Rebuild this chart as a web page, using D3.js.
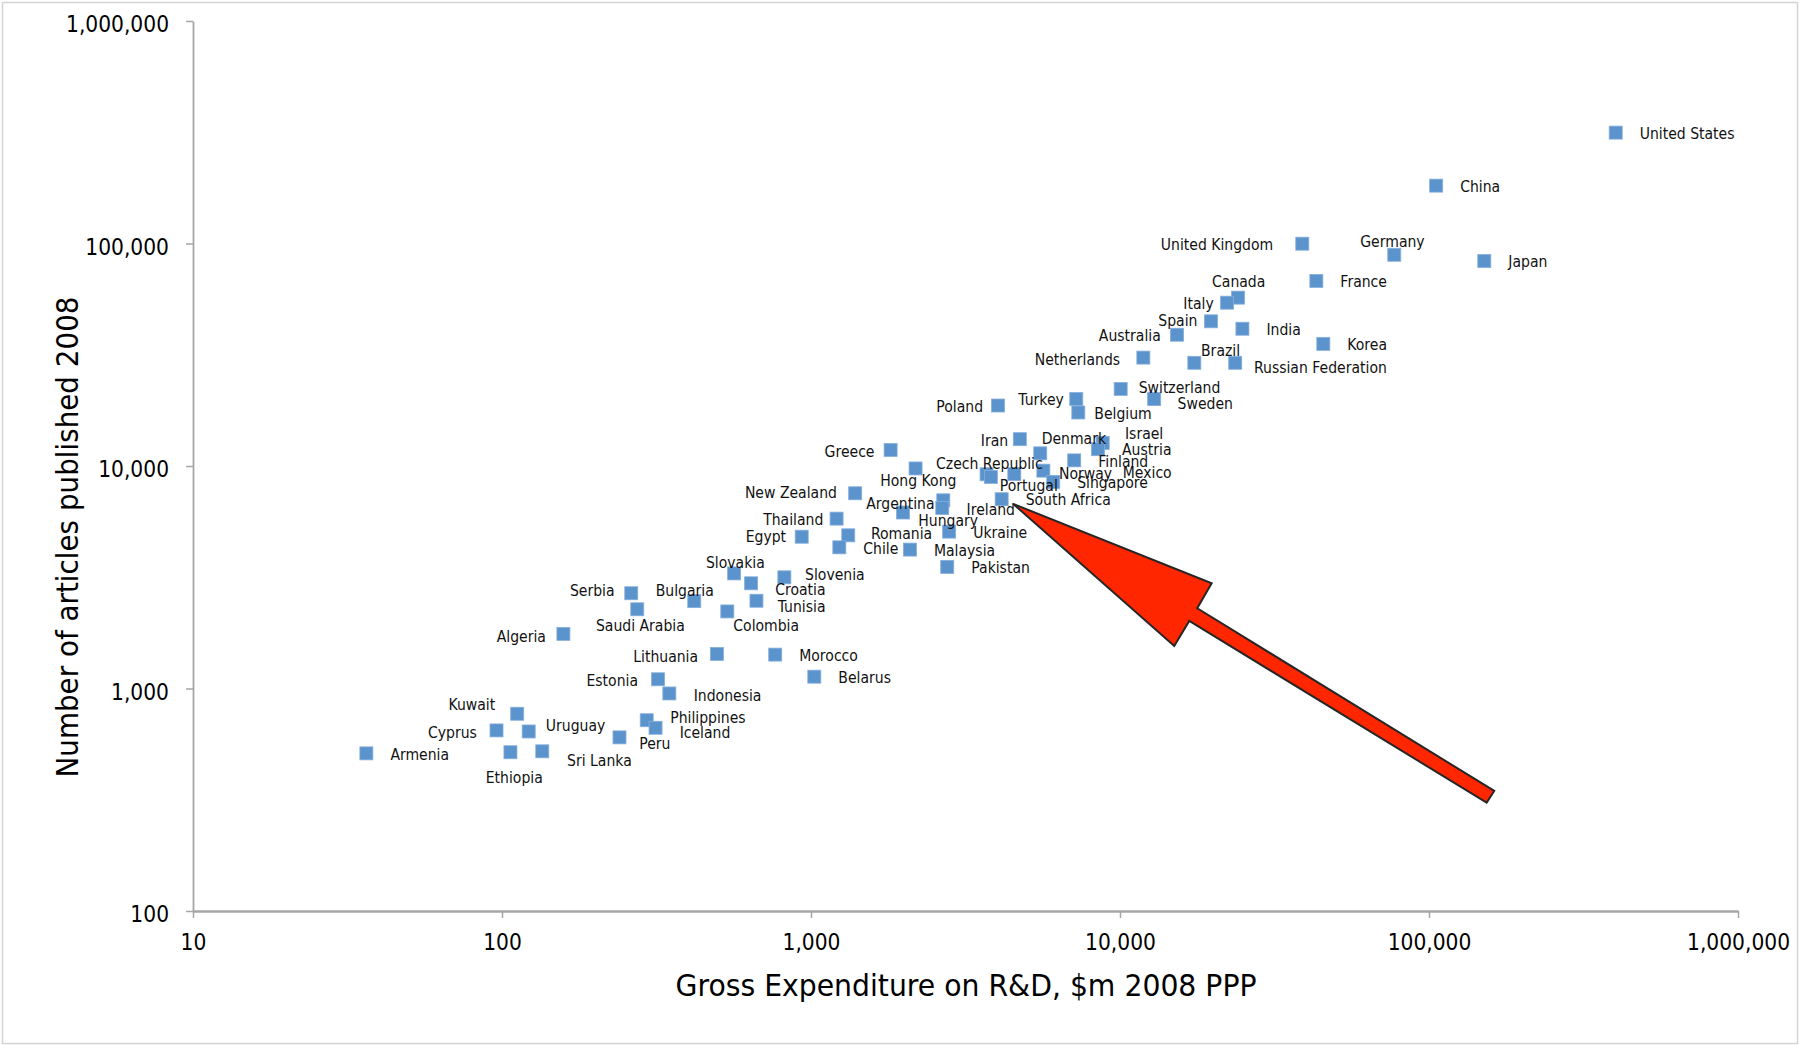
<!DOCTYPE html>
<html>
<head>
	<meta charset="utf-8">
	<title>GERD vs articles 2008</title>
	<script src="https://d3js.org/d3.v7.min.js"></script>
	<style>
		body { margin: 0; background: #fff; }
		svg { display: block; font-family: 'DejaVu Sans', Verdana, sans-serif; }
	</style>
</head>
<body>
	<div class="chart"></div>

	<script type="text/javascript">

		// countries, R&D spend ($m 2008 PPP) and articles published 2008
		var countries = ['United States', 'China', 'Japan', 'Germany', 'United Kingdom', 'France', 'Canada', 'Italy',
			'Spain', 'India', 'Australia', 'Korea', 'Netherlands', 'Brazil', 'Russian Federation', 'Switzerland',
			'Sweden', 'Turkey', 'Belgium', 'Poland', 'Iran', 'Denmark', 'Israel', 'Austria', 'Finland', 'Greece',
			'Hong Kong', 'Czech Republic', 'Portugal', 'Norway', 'Mexico', 'Singapore', 'South Africa', 'Ireland',
			'Argentina', 'Hungary', 'New Zealand', 'Thailand', 'Egypt', 'Romania', 'Chile', 'Malaysia', 'Ukraine',
			'Pakistan', 'Slovakia', 'Croatia', 'Slovenia', 'Tunisia', 'Colombia', 'Bulgaria', 'Serbia',
			'Saudi Arabia', 'Algeria', 'Lithuania', 'Morocco', 'Belarus', 'Estonia', 'Indonesia', 'Philippines',
			'Iceland', 'Peru', 'Kuwait', 'Cyprus', 'Uruguay', 'Armenia', 'Ethiopia', 'Sri Lanka']

		var gerd = [402000, 105500, 151000, 77200, 38900, 43200, 24100, 22200,
			19700, 24900, 15300, 45500, 11900, 17400, 23600, 10050,
			12900, 7220, 7330, 4030, 4740, 5520, 8790, 8490, 7110, 1810,
			2180, 3700, 3820, 4550, 5650, 6080, 4140, 2680,
			2660, 1985, 1390, 1210, 933, 1320, 1235, 2090, 2800,
			2760, 564, 640, 820, 666, 536, 419, 262,
			274, 158, 496, 766, 1025, 320, 348, 294,
			314, 240, 112, 96, 122, 36.4, 106.5, 135]

		var articles = [315000, 182000, 83400, 89000, 99800, 67900, 57100, 54200,
			44700, 41400, 38900, 35400, 30700, 29100, 29100, 22200,
			20000, 20000, 17400, 18700, 13200, 11400, 12700, 11900, 10600, 11800,
			9750, 9180, 8930, 9200, 9530, 8480, 7090, 7010,
			6480, 6180, 7540, 5800, 4810, 4880, 4310, 4210, 5070,
			3520, 3290, 2970, 3160, 2480, 2220, 2470, 2680,
			2270, 1760, 1430, 1420, 1130, 1100, 950, 720,
			666, 603, 770, 648, 641, 511, 517, 522]

		var xTicks = [10, 100, 1000, 10000, 100000, 1000000]
		var yTicks = [100, 1000, 10000, 100000, 1000000]

		var xTitle = 'Gross Expenditure on R&D, $m 2008 PPP'
		var yTitle = 'Number of articles published 2008'

		// label placement (pixels from marker centre), the rest sit to the right
		var labelShift = {
			'Germany': [-34, -14], 'United Kingdom': [-141.5, 0.6], 'Canada': [-26, -16.4], 'Italy': [-43.7, 0.6],
			'Spain': [-52.7, -1.3], 'Australia': [-78.2, 0.3], 'Netherlands': [-108.6, 1.6], 'Brazil': [6.7, -12.7],
			'Russian Federation': [18.7, 4.6], 'Switzerland': [18, -1.7], 'Sweden': [23.4, 4.3], 'Turkey': [-58, 0.3],
			'Belgium': [16, 0.6], 'Poland': [-61.7, 0.3], 'Iran': [-39, 0.7], 'Denmark': [1.4, -15],
			'Israel': [22.3, -10], 'Greece': [-66, 1.7], 'Hong Kong': [-35.3, 12.2], 'Czech Republic': [-50.5, -11],
			'Portugal': [9, 8.3], 'Norway': [44.7, -0.7], 'Mexico': [79.4, 2], 'Ireland': [23.3, 8.7],
			'Argentina': [-76, -4.7], 'Hungary': [15.3, 8.2], 'New Zealand': [-110.3, -1], 'Thailand': [-73.4, 0.6],
			'Egypt': [-56, 0], 'Romania': [22.7, -2], 'Slovakia': [-28.2, -11.6], 'Croatia': [24.1, 5.7],
			'Slovenia': [20.7, -3], 'Tunisia': [21.2, 6], 'Colombia': [6, 13.4], 'Bulgaria': [-38.6, -11.3],
			'Serbia': [-61.3, -2.6], 'Saudi Arabia': [-41.3, 16.4], 'Algeria': [-66.7, 2], 'Lithuania': [-83.7, 2],
			'Estonia': [-71.6, 0.5], 'Indonesia': [24.4, 1.8], 'Philippines': [23.5, -3.5], 'Iceland': [24.1, 4.3],
			'Peru': [19.8, 5.9], 'Kuwait': [-68.8, -9.4], 'Cyprus': [-68.5, 1.9], 'Uruguay': [17.1, -5.8],
			'Ethiopia': [-24.7, 25], 'Sri Lanka': [24.8, 9.4]
		}

		var width = 1801
		var height = 1046

		var points = countries.map((c, i) => ({ name: c, gerd: gerd[i], articles: articles[i] }))

		// narrow the DejaVu glyphs a bit so they sit like Tahoma
		function squeeze(sel, k) {
			sel.each(function() {
				var w = this.getComputedTextLength()
				d3.select(this).attr('textLength', w * k).attr('lengthAdjust', 'spacingAndGlyphs')
			})
		}

		var svg = d3
			.select('.chart')
			.append('svg')
			.attr('width', width)
			.attr('height', height)

		svg.append('rect')
			.attr('x', 2.5).attr('y', 2.5)
			.attr('width', 1795).attr('height', 1041)
			.attr('fill', '#fff')
			.attr('stroke', '#d4d4d4')
			.attr('stroke-width', 1.5)

		// scales
		var x = d3.scaleLog().domain([10, 1000000]).range([193, 1738])
		var y = d3.scaleLog().domain([100, 1000000]).range([911, 21])

		// axes
		var yAxis = svg.append('g')
			.attr('transform', 'translate(193, 0)')
			.call(d3.axisLeft(y).tickValues(yTicks).tickSize(7).tickSizeOuter(0).tickFormat(d3.format(',')))
		yAxis.select('.domain').attr('stroke', '#a6a6a6').attr('stroke-width', 1.8)
		yAxis.selectAll('.tick line').attr('stroke', '#a6a6a6').attr('stroke-width', 1.5)
		var yLab = yAxis.selectAll('.tick text')
			.attr('x', -24)
			.attr('dy', '0.47em')
			.attr('fill', '#000')
			.style('font-size', '23px')
			.style('font-family', "'DejaVu Sans', Verdana, sans-serif")
		squeeze(yLab, 0.88)

		var xAxis = svg.append('g')
			.attr('transform', 'translate(0, 911)')
			.call(d3.axisBottom(x).tickValues(xTicks).tickSize(7).tickSizeOuter(0).tickFormat(d3.format(',')))
		xAxis.select('.domain').attr('stroke', '#a6a6a6').attr('stroke-width', 2.6)
		xAxis.selectAll('.tick line').attr('stroke', '#a6a6a6').attr('stroke-width', 1.5)
		var xLab = xAxis.selectAll('.tick text')
			.attr('y', 22.5)
			.attr('dy', '0.71em')
			.attr('fill', '#000')
			.style('font-size', '23px')
			.style('font-family', "'DejaVu Sans', Verdana, sans-serif")
		squeeze(xLab, 0.88)

		// axis titles
		svg.append('text')
			.attr('x', 966).attr('y', 996)
			.attr('text-anchor', 'middle')
			.style('font-size', '31px')
			.attr('textLength', 581).attr('lengthAdjust', 'spacingAndGlyphs')
			.text(xTitle)

		svg.append('text')
			.attr('transform', 'translate(78, 537) rotate(-90)')
			.attr('text-anchor', 'middle')
			.style('font-size', '31px')
			.attr('textLength', 481).attr('lengthAdjust', 'spacingAndGlyphs')
			.text(yTitle)

		// markers
		svg.append('g')
			.selectAll('rect')
			.data(points)
			.join('rect')
			.attr('x', d => x(d.gerd) - 6.5)
			.attr('y', d => y(d.articles) - 6.5)
			.attr('width', 13)
			.attr('height', 13)
			.attr('fill', '#5b93cc')
			.attr('stroke', '#86aedb')
			.attr('stroke-width', 0.8)

		// data labels
		var labels = svg.append('g')
			.selectAll('text')
			.data(points)
			.join('text')
			.attr('x', d => x(d.gerd) + (labelShift[d.name] || [24, 0.5])[0])
			.attr('y', d => y(d.articles) + (labelShift[d.name] || [24, 0.5])[1])
			.attr('dy', '0.36em')
			.attr('fill', '#111')
			.style('font-size', '16px')
			.text(d => d.name)
		squeeze(labels, 0.875)

		// red arrow pointing at South Africa
		var sa = points.find(d => d.name === 'South Africa')
		var tipX = x(sa.gerd) + 11.6
		var tipY = y(sa.articles) + 4.7
		var arrowShape = [[0, 0], [198.4, 79.3], [184, 104.3], [481, 287], [473.4, 298.7], [176, 117], [161, 142]]
		svg.append('path')
			.attr('d', d3.line()(arrowShape.map(p => [tipX + p[0], tipY + p[1]])) + 'Z')
			.attr('fill', '#ff2600')
			.attr('stroke', '#262626')
			.attr('stroke-width', 2)
			.attr('stroke-linejoin', 'miter')

	</script>
</body>
</html>
